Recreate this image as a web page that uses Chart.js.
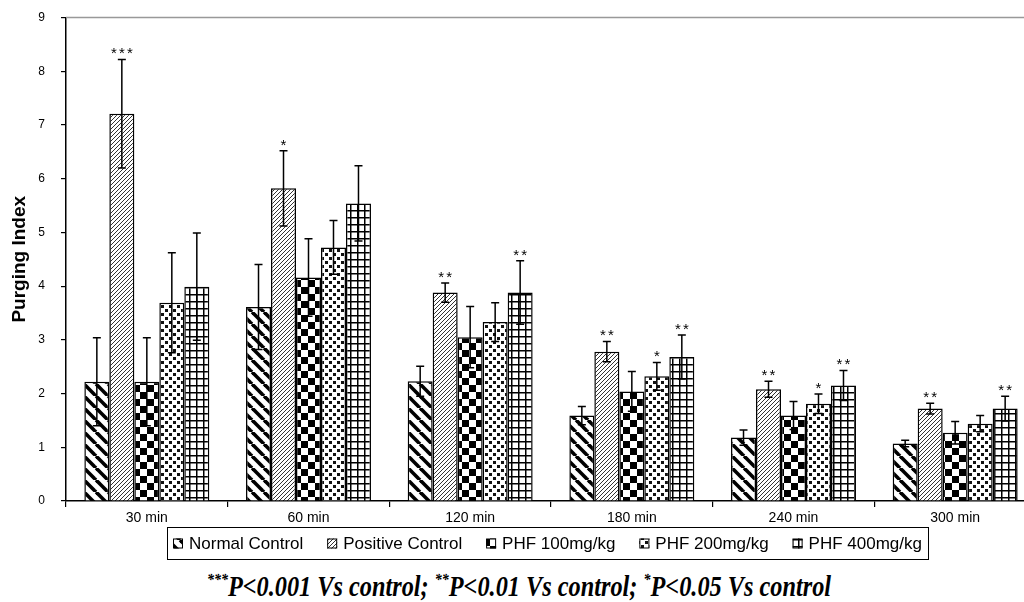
<!DOCTYPE html>
<html>
<head>
<meta charset="utf-8">
<script src="https://cdn.jsdelivr.net/npm/chart.js@4.4.1/dist/chart.umd.min.js"></script>
<style>
  html, body { margin: 0; padding: 0; background: #fff; width: 1024px; height: 602px; overflow: hidden; }
  #wrap { position: relative; width: 1060px; height: 565px; }
  #note {
    position: absolute; left: 0; top: 571px; width: 1038px; text-align: center;
    font: bold italic 24.3px/25px "Liberation Serif", "Times New Roman", serif; color: #000;
    transform: scaleY(1.17); transform-origin: top center; white-space: nowrap;
  }
  #note sup { font-size: 14px; vertical-align: 0; position: relative; top: -9px; }
</style>
</head>
<body>
<div id="wrap"><canvas id="chart" width="1060" height="565"></canvas></div>
<div id="note"><sup>***</sup>P&lt;0.001 Vs control; <sup>**</sup>P&lt;0.01 Vs control; <sup>*</sup>P&lt;0.05 Vs control</div>
<script>
const categories = ['30 min', '60 min', '120 min', '180 min', '240 min', '300 min'];

const normalControl = [2.22, 3.61, 2.23, 1.59, 1.18, 1.07];
const positiveControl = [7.21, 5.82, 3.88, 2.78, 2.08, 1.72];
const phf100 = [2.22, 4.16, 3.05, 2.04, 1.59, 1.27];
const phf200 = [3.69, 4.72, 3.33, 2.32, 1.81, 1.44];
const phf400 = [3.99, 5.54, 3.88, 2.68, 2.15, 1.72];

const normalErr = [0.82, 0.79, 0.28, 0.17, 0.14, 0.06];
const positiveErr = [1.01, 0.70, 0.18, 0.19, 0.15, 0.10];
const phf100Err = [0.82, 0.72, 0.57, 0.37, 0.26, 0.21];
const phf200Err = [0.93, 0.50, 0.36, 0.26, 0.18, 0.15];
const phf400Err = [1.00, 0.70, 0.59, 0.41, 0.28, 0.23];

const normalSig = ['', '', '', '', '', ''];
const positiveSig = ['***', '*', '**', '**', '**', '**'];
const phf100Sig = ['', '', '', '', '', ''];
const phf200Sig = ['', '', '', '*', '*', ''];
const phf400Sig = ['', '', '**', '**', '**', '**'];

const yTicks = [0, 1, 2, 3, 4, 5, 6, 7, 8, 9];

const FONT = '"Liberation Sans", Arial, sans-serif';
const canvas = document.getElementById('chart');
const mainCtx = canvas.getContext('2d');

// hatch fills, one per series
function makePattern(size, draw) {
  const c = document.createElement('canvas');
  c.width = size; c.height = size;
  const g = c.getContext('2d');
  g.fillStyle = '#fff';
  g.fillRect(0, 0, size, size);
  draw(g, size);
  return mainCtx.createPattern(c, 'repeat');
}

const diagThick = makePattern(12, (g, s) => {
  g.strokeStyle = '#000'; g.lineWidth = 3.6;
  for (let k = -s; k <= s; k += s) {
    g.beginPath(); g.moveTo(k, 0); g.lineTo(k + s, s); g.stroke();
  }
});
const diagThin = makePattern(4, (g, s) => {
  g.strokeStyle = '#333'; g.lineWidth = 1;
  for (let k = -s; k <= s; k += s) {
    g.beginPath(); g.moveTo(k, s); g.lineTo(k + s, 0); g.stroke();
  }
});
const checker = makePattern(14, (g) => {
  g.fillStyle = '#000';
  g.fillRect(0, 0, 7, 7);
  g.fillRect(7, 7, 7, 7);
});
const dots = makePattern(8, (g) => {
  g.fillStyle = '#111';
  g.fillRect(1, 1, 3, 3);
  g.fillRect(5, 5, 3, 3);
});
const grid = makePattern(7, (g) => {
  g.fillStyle = '#000';
  g.fillRect(0, 0, 7, 1.5);
  g.fillRect(0, 0, 1.5, 7);
});

function series(label, data, fill, errors, sig) {
  return {
    label: label, data: data, errors: errors, sig: sig,
    backgroundColor: fill, borderColor: '#000', borderWidth: 1.5,
    categoryPercentage: 0.773, barPercentage: 1.0
  };
}

// thin grey frame line along the top of the plot
const topLine = {
  id: 'topLine',
  beforeDatasetsDraw(chart) {
    const ctx = chart.ctx, a = chart.chartArea;
    ctx.save();
    ctx.strokeStyle = '#999';
    ctx.lineWidth = 1.5;
    ctx.beginPath();
    ctx.moveTo(a.left, a.top);
    ctx.lineTo(a.right, a.top);
    ctx.stroke();
    ctx.restore();
  }
};

const errorBars = {
  id: 'errorBars',
  afterDatasetsDraw(chart) {
    const ctx = chart.ctx;
    const y = chart.scales.y;
    ctx.save();
    ctx.strokeStyle = '#000';
    ctx.lineWidth = 1.5;
    ctx.fillStyle = '#000';
    ctx.font = '15px ' + FONT;
    ctx.textAlign = 'center';
    ctx.textBaseline = 'alphabetic';
    chart.data.datasets.forEach((ds, i) => {
      chart.getDatasetMeta(i).data.forEach((bar, j) => {
        const v = ds.data[j], e = ds.errors[j];
        const top = y.getPixelForValue(v + e);
        const bot = y.getPixelForValue(v - e);
        const x = bar.x;
        ctx.beginPath();
        ctx.moveTo(x, top); ctx.lineTo(x, bot);
        ctx.moveTo(x - 4, top); ctx.lineTo(x + 4, top);
        ctx.moveTo(x - 4, bot); ctx.lineTo(x + 4, bot);
        ctx.stroke();
        const n = ds.sig[j].length;
        for (let k = 0; k < n; k++) {
          ctx.fillText('*', x + (k - (n - 1) / 2) * 8, top - 1);
        }
      });
    });
    ctx.restore();
  }
};

const boxLegend = {
  id: 'boxLegend',
  afterDraw(chart) {
    const ctx = chart.ctx;
    const area = chart.chartArea;
    const left = 167, right = 928;
    const top = area.bottom + 26, h = 32;
    ctx.save();
    ctx.font = '17px ' + FONT;
    ctx.textBaseline = 'middle';
    ctx.fillStyle = '#000';
    const items = chart.data.datasets.map(ds => ({ ds: ds, w: ctx.measureText(ds.label).width }));
    const box = 10, boxGap = 6, pad = 6;
    const used = items.reduce((s, it) => s + box + boxGap + it.w, 0);
    const gap = (right - left - 2 * pad - used) / (items.length - 1);
    ctx.strokeStyle = '#000';
    ctx.lineWidth = 1;
    ctx.strokeRect(left + 0.5, top + 0.5, right - left, h);
    let x = left + pad;
    const cy = top + h / 2 + 0.5;
    items.forEach(it => {
      ctx.fillStyle = it.ds.backgroundColor;
      ctx.fillRect(x, cy - box / 2, box, box);
      ctx.strokeRect(x + 0.5, cy - box / 2 + 0.5, box - 1, box - 1);
      ctx.fillStyle = '#000';
      ctx.fillText(it.ds.label, x + box + boxGap, cy + 1);
      x += box + boxGap + it.w + gap;
    });
    ctx.restore();
  }
};

new Chart(mainCtx, {
  type: 'bar',
  data: {
    labels: categories,
    datasets: [
      series('Normal Control', normalControl, diagThick, normalErr, normalSig),
      series('Positive Control', positiveControl, diagThin, positiveErr, positiveSig),
      series('PHF 100mg/kg', phf100, checker, phf100Err, phf100Sig),
      series('PHF 200mg/kg', phf200, dots, phf200Err, phf200Sig),
      series('PHF 400mg/kg', phf400, grid, phf400Err, phf400Sig)
    ]
  },
  options: {
    responsive: false,
    animation: false,
    layout: { padding: { left: 0, top: 17.5, right: 24, bottom: 34 } },
    plugins: {
      legend: { display: false },
      tooltip: { enabled: false }
    },
    scales: {
      x: {
        grid: { display: true, drawOnChartArea: false, offset: true, tickLength: 6, color: '#000', lineWidth: 1.2 },
        border: { color: '#000', width: 1.5 },
        ticks: { color: '#000', font: { family: FONT, size: 14 }, padding: 3 },
        afterFit: s => { s.height = 30; }
      },
      y: {
        min: 0, max: 9,
        afterBuildTicks: s => { s.ticks = yTicks.map(v => ({ value: v })); },
        grid: { drawOnChartArea: false, tickLength: 5, color: '#000', lineWidth: 1.2 },
        border: { color: '#000', width: 1.5 },
        ticks: { color: '#000', font: { family: FONT, size: 12 }, padding: 16 },
        title: { display: true, text: 'Purging Index', color: '#000', font: { family: FONT, size: 19, weight: 'bold' }, padding: { top: 8, bottom: 0 } },
        afterFit: s => { s.width = 66; s.paddingTop = 5; s.paddingBottom = 5; }
      }
    }
  },
  plugins: [topLine, errorBars, boxLegend]
});
</script>
</body>
</html>
